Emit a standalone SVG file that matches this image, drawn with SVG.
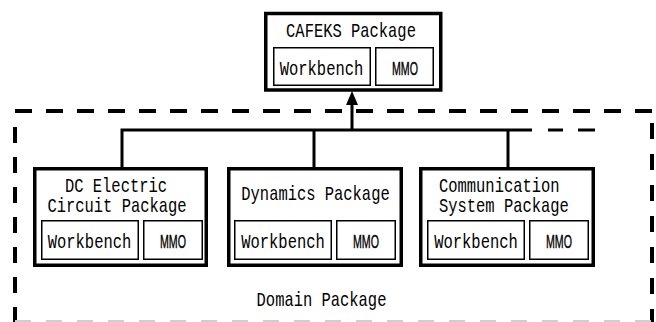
<svg xmlns="http://www.w3.org/2000/svg" width="656" height="322" viewBox="0 0 656 322">
<style>
.outer{fill:#fff;stroke:#000;stroke-width:3.5}
.inner{fill:#fff;stroke:#000;stroke-width:1.5}
.t{font-family:"Liberation Mono","DejaVu Sans Mono",monospace;font-size:17px;fill:#000;text-anchor:middle}
.ts{font-family:"Liberation Mono","DejaVu Sans Mono",monospace;font-size:17px;fill:#000;text-anchor:start}
.m{font-family:"Liberation Sans",Arial,sans-serif;font-size:19px;fill:#000;text-anchor:middle;stroke:#000;stroke-width:0.4}
.dash{stroke:#000;stroke-width:4;fill:none}
.conn{stroke:#000;stroke-width:3;fill:none}
</style>
<rect width="656" height="322" fill="#fff"/>
<g id="domain-package">
<line class="dash" x1="15" y1="111" x2="652" y2="111" stroke-dasharray="17 14"/>
<line class="dash" x1="15" y1="127" x2="15" y2="322" stroke-dasharray="16 14"/>
<line class="dash" x1="652" y1="123" x2="652" y2="322" stroke-dasharray="16 15"/>
<line x1="15" y1="321" x2="652" y2="321" stroke="#cfcfcf" stroke-width="2" stroke-dasharray="16 15"/>
<text class="t" transform="translate(321.5,306) scale(0.91,1.15)">Domain Package</text>
</g>
<g id="connectors">
<polyline class="conn" points="122,167 122,130 532,130"/>
<line class="conn" x1="314" y1="130" x2="314" y2="167"/>
<line class="conn" x1="508" y1="130" x2="508" y2="167"/>
<line class="conn" x1="352" y1="130" x2="352" y2="100"/>
<polygon points="352,91 346,105 358,105" fill="#000"/>
<line class="conn" x1="548" y1="130" x2="563" y2="130"/>
<line class="conn" x1="578" y1="130" x2="595" y2="130"/>
</g>
<g id="cafeks">
<rect class="outer" x="265.75" y="13.5" width="175" height="76.5"/>
<text class="t" transform="translate(351,37) scale(0.91,1.15)">CAFEKS Package</text>
<rect class="inner" x="273.75" y="47.75" width="96.5" height="37.5"/>
<text class="t" transform="translate(321.5,75) scale(0.91,1.15)">Workbench</text>
<rect class="inner" x="375.75" y="47.75" width="57.5" height="37.5"/>
<text class="m" transform="translate(405,75) scale(0.56,1)">MMO</text>
</g>
<g id="dc-electric">
<rect class="outer" x="34.75" y="168.75" width="171.5" height="96.5"/>
<text class="t" transform="translate(116,192) scale(0.91,1.15)">DC Electric</text>
<text class="t" transform="translate(117,212) scale(0.91,1.15)">Circuit Package</text>
<rect class="inner" x="41.75" y="220.75" width="96.5" height="38.5"/>
<text class="t" transform="translate(89.5,248) scale(0.91,1.15)">Workbench</text>
<rect class="inner" x="143.75" y="220.75" width="58.5" height="38.5"/>
<text class="m" transform="translate(173,248) scale(0.56,1)">MMO</text>
</g>
<g id="dynamics">
<rect class="outer" x="228.75" y="168.75" width="172.5" height="96.5"/>
<text class="t" transform="translate(315.5,200) scale(0.91,1.15)">Dynamics Package</text>
<rect class="inner" x="234.75" y="220.75" width="96.5" height="38.5"/>
<text class="t" transform="translate(283,248) scale(0.91,1.15)">Workbench</text>
<rect class="inner" x="336.75" y="220.75" width="58.5" height="38.5"/>
<text class="m" transform="translate(366,248) scale(0.56,1)">MMO</text>
</g>
<g id="communication">
<rect class="outer" x="420.75" y="168.75" width="172.5" height="96.5"/>
<text class="ts" transform="translate(439,192) scale(0.91,1.15)">Communication</text>
<text class="ts" transform="translate(439,212) scale(0.91,1.15)">System Package</text>
<rect class="inner" x="427.75" y="220.75" width="96.5" height="38.5"/>
<text class="t" transform="translate(476,248) scale(0.91,1.15)">Workbench</text>
<rect class="inner" x="529.75" y="220.75" width="58.5" height="38.5"/>
<text class="m" transform="translate(559,248) scale(0.56,1)">MMO</text>
</g>
</svg>
